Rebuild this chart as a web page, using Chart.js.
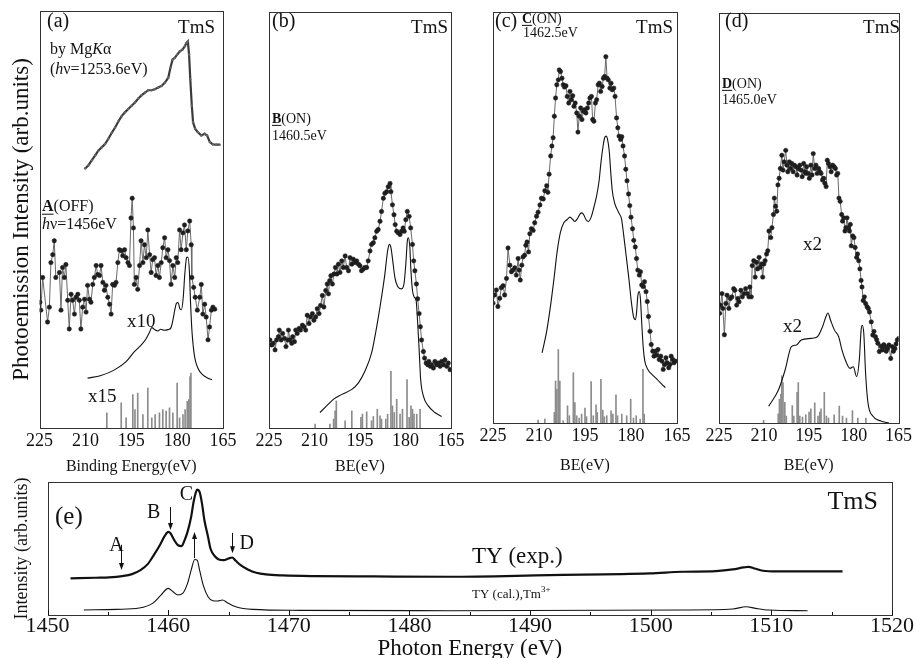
<!DOCTYPE html>
<html>
<head>
<meta charset="utf-8">
<title>TmS spectra</title>
<script src="https://cdn.jsdelivr.net/npm/chart.js@4.4.1/dist/chart.umd.min.js"></script>
<style>
  body { margin: 0; background: #fff; width: 916px; height: 658px; overflow: hidden; position: relative; }
  canvas { position: absolute; }
</style>
</head>
<body>
<canvas id="chartA" width="250" height="477" style="left:0;top:0"></canvas>
<canvas id="chartB" width="225" height="477" style="left:250px;top:0"></canvas>
<canvas id="chartC" width="225" height="476" style="left:475px;top:0"></canvas>
<canvas id="chartD" width="216" height="476" style="left:700px;top:0"></canvas>
<canvas id="chartE" width="916" height="190" style="left:0;top:470px"></canvas>
<script>
// tick labels
const beTicks = [225, 210, 195, 180, 165];
const peTicks = [1450, 1460, 1470, 1480, 1490, 1500, 1510, 1520];
const peMinor = [1455, 1465, 1475, 1485, 1495, 1505, 1515];

// (a) binding energy [eV], intensity [arb.]
const aMgKa = [[210.1,78.6],[209.0,79.6],[207.9,81.1],[206.8,82.6],[205.8,84.0],[204.7,85.0],[203.6,86.0],[202.5,87.6],[201.4,89.4],[200.3,91.0],[199.2,92.9],[198.2,94.4],[197.1,95.6],[196.0,96.6],[194.9,97.6],[193.8,98.6],[192.7,99.8],[191.6,100.8],[190.5,101.6],[189.5,102.3],[188.4,102.3],[187.3,102.6],[186.2,103.1],[185.1,103.6],[184.0,104.6],[182.9,106.1],[182.2,109.1],[181.5,111.6],[180.8,112.1],[180.0,113.1],[179.1,114.1],[178.3,114.6],[177.5,115.6],[177.0,116.6],[176.5,117.1],[176.1,113.1],[175.7,105.6],[175.2,97.6],[174.8,92.6],[174.1,90.6],[173.2,89.6],[172.1,88.6],[171.0,89.1],[170.2,88.6],[169.3,86.6],[168.3,85.9],[167.2,85.8],[166.1,85.8]];
const aOff = [[224.9,38.1],[224.6,35.7],[224.0,45.6],[222.4,32.1],[221.8,36.6],[221.3,50.1],[220.7,52.5],[220.2,56.7],[219.7,45.6],[218.5,47.1],[218.0,35.7],[217.5,48.6],[216.9,45.6],[216.4,49.5],[215.8,38.7],[215.3,30.0],[214.7,40.5],[214.2,38.7],[213.6,34.5],[213.1,39.6],[212.5,40.5],[212.0,38.7],[211.5,30.0],[210.9,36.6],[210.3,39.0],[209.8,35.1],[209.3,43.2],[208.7,39.0],[208.2,38.1],[207.6,43.5],[207.1,45.6],[206.5,49.2],[206.0,46.5],[205.4,46.2],[204.9,49.2],[204.3,44.1],[203.8,41.7],[203.3,43.2],[202.7,39.6],[202.1,37.5],[201.6,34.5],[201.1,43.5],[200.5,43.2],[200.0,44.1],[199.4,50.1],[198.9,54.0],[198.3,53.7],[197.8,52.2],[197.2,54.0],[196.7,51.6],[196.1,50.1],[195.6,49.2],[195.1,63.6],[194.7,69.6],[194.3,60.6],[194.0,43.5],[193.4,45.6],[192.9,42.0],[192.3,49.2],[191.8,56.7],[191.2,50.1],[190.7,55.5],[190.1,51.6],[189.6,60.0],[189.0,52.5],[188.5,47.1],[188.0,51.0],[187.4,51.6],[186.9,46.2],[186.3,49.2],[185.8,45.6],[185.2,50.1],[184.7,54.6],[184.1,57.6],[183.6,51.6],[183.0,54.0],[182.5,50.7],[182.0,43.5],[181.4,49.2],[180.8,45.6],[180.3,51.6],[179.8,50.1],[179.2,60.0],[178.7,54.0],[178.1,59.1],[177.6,61.5],[177.0,54.0],[176.5,59.7],[175.9,62.7],[175.4,55.5],[175.2,45.6],[174.6,42.6],[174.1,39.6],[173.4,35.7],[172.6,39.6],[172.1,43.5],[171.6,34.5],[171.0,37.5],[170.5,33.6],[169.9,26.7],[169.4,30.6],[168.8,35.7],[168.3,36.6],[167.7,36.0]];
const aCalc = [[209.3,15.1],[204.9,15.9],[200.5,17.6],[196.7,20.1],[194.0,23.1],[191.8,25.1],[190.1,27.1],[189.0,29.1],[188.3,30.4],[187.4,29.8],[186.3,29.4],[185.4,29.9],[184.3,29.6],[183.0,29.8],[182.0,30.4],[181.4,32.6],[180.8,35.6],[180.2,37.8],[179.7,38.0],[179.1,36.1],[178.6,35.8],[178.0,39.6],[177.5,46.6],[176.9,51.6],[176.5,51.8],[176.0,47.6],[175.6,37.6],[175.1,28.6],[174.3,21.6],[173.2,18.1],[171.6,16.1],[169.9,15.1],[168.6,14.6]];
const aSticks = [[203.0,4.6],[198.3,7.6],[196.7,3.1],[194.5,10.1],[193.8,5.6],[192.9,10.6],[191.2,4.1],[189.6,12.1],[188.3,3.1],[187.2,4.1],[185.8,4.6],[184.7,5.6],[183.6,5.1],[182.5,6.1],[181.4,4.6],[180.0,13.6],[179.2,3.1],[178.1,4.1],[177.4,5.6],[176.7,8.1],[176.2,8.6],[175.8,15.6],[175.5,16.6]];

// (b)
const bOn = [[224.7,26.7],[224.1,25.2],[223.6,25.7],[223.0,23.7],[222.5,26.7],[221.9,27.7],[221.6,29.7],[221.0,26.7],[220.5,28.7],[219.9,27.2],[219.4,24.7],[218.8,26.7],[218.6,29.7],[218.1,26.7],[217.5,25.7],[217.2,27.7],[216.6,26.2],[216.2,29.7],[215.7,28.7],[215.1,30.2],[214.6,29.7],[214.0,31.2],[213.5,30.7],[212.9,29.7],[212.4,34.2],[211.8,31.7],[211.3,33.7],[210.7,34.7],[210.2,32.7],[209.6,33.7],[209.1,36.2],[208.5,34.7],[208.0,37.2],[207.4,40.2],[206.9,36.7],[206.3,41.7],[205.8,43.7],[205.4,40.7],[205.0,44.7],[204.6,46.2],[204.1,43.7],[203.6,46.7],[203.1,48.7],[202.6,46.7],[202.1,49.7],[201.6,47.2],[201.0,50.7],[200.5,48.7],[199.9,52.2],[199.4,48.7],[198.8,47.7],[198.3,51.7],[197.7,49.7],[197.2,51.2],[196.6,50.2],[196.1,50.7],[195.5,49.7],[195.0,49.2],[194.5,47.7],[193.9,48.2],[193.4,48.7],[192.8,48.7],[192.3,50.7],[191.7,53.7],[191.2,55.7],[190.6,56.2],[190.1,57.7],[189.5,59.7],[189.0,60.2],[188.4,62.7],[187.9,65.7],[187.3,69.7],[186.8,71.2],[186.2,71.7],[185.7,73.2],[185.1,74.2],[184.8,71.7],[184.3,67.7],[183.8,64.7],[183.4,61.7],[182.9,59.7],[182.4,59.2],[181.8,58.7],[181.3,59.7],[180.8,60.7],[180.4,59.7],[179.9,63.2],[179.4,65.7],[178.8,64.2],[178.3,60.7],[177.7,55.7],[177.3,50.7],[176.9,47.7],[176.4,43.7],[176.0,39.2],[175.5,34.7],[175.1,30.7],[174.7,26.7],[174.1,23.2],[173.7,21.2],[173.2,19.7],[172.7,19.2],[172.3,20.2],[171.8,18.7],[171.4,19.2],[170.8,18.2],[170.3,20.2],[169.7,19.2],[169.2,19.7],[168.6,18.7],[168.1,20.2],[167.5,19.2],[167.0,20.7],[166.4,18.7],[165.9,19.7],[165.3,17.7]];
const bCalc = [[208.2,4.7],[206.0,6.7],[203.8,8.7],[201.0,10.2],[197.7,11.7],[195.5,13.7],[193.4,17.2],[191.2,22.7],[189.5,30.7],[187.9,39.7],[186.8,46.7],[185.9,53.7],[185.3,55.7],[184.8,54.7],[184.2,50.7],[183.5,45.7],[182.4,42.7],[181.3,42.2],[180.5,43.7],[179.9,49.7],[179.4,56.7],[179.1,57.7],[178.6,55.2],[178.2,47.7],[177.7,41.7],[177.1,39.7],[176.5,38.7],[176.1,33.7],[175.5,23.7],[175.0,14.7],[174.1,9.7],[172.5,6.7],[170.3,4.7],[168.1,3.5]];
const bSticks = [[209.8,1.2],[204.9,1.2],[203.7,2.7],[203.2,5.2],[202.8,8.2],[199.9,2.2],[197.7,5.2],[194.7,3.2],[194.2,4.2],[192.8,4.9],[191.2,2.2],[190.6,3.5],[189.3,5.7],[188.4,3.7],[187.9,2.7],[186.5,2.7],[185.9,4.2],[184.8,17.2],[184.3,6.7],[183.7,4.7],[182.9,8.7],[181.8,4.2],[181.0,5.7],[179.5,14.7],[178.8,3.2],[178.2,6.7],[177.7,5.7],[177.2,4.2],[176.3,4.2],[175.2,5.7]];

// (c)
const cOn = [[225.0,36.2],[224.5,38.7],[223.9,40.2],[223.4,35.2],[222.8,37.7],[222.3,40.9],[221.7,41.5],[221.2,38.7],[220.6,43.7],[220.1,52.9],[219.5,47.7],[219.0,45.7],[218.5,46.2],[217.9,46.9],[217.4,44.7],[216.8,49.7],[216.5,46.2],[216.1,43.2],[215.6,47.7],[215.2,50.2],[214.7,50.7],[214.3,53.7],[213.9,54.7],[213.4,51.7],[213.0,57.2],[212.5,58.7],[211.9,58.2],[211.4,60.5],[210.8,62.5],[210.3,63.7],[209.7,65.9],[209.2,67.9],[208.6,67.7],[208.1,70.2],[207.5,71.7],[207.1,69.7],[206.7,75.2],[206.2,80.7],[205.8,83.7],[205.4,86.2],[205.0,92.7],[204.6,98.2],[204.2,102.2],[203.7,103.7],[203.4,106.7],[203.0,106.2],[202.5,104.2],[202.1,102.2],[201.7,101.5],[201.2,101.9],[200.8,98.7],[200.3,96.7],[199.9,100.2],[199.5,97.7],[199.0,98.9],[198.6,95.7],[198.2,96.7],[197.7,93.7],[197.3,87.9],[196.9,92.7],[196.4,95.2],[196.0,91.7],[195.5,94.2],[195.1,94.7],[194.7,93.7],[194.2,95.2],[193.8,96.7],[193.4,98.2],[192.9,98.7],[192.5,91.7],[192.1,91.2],[191.6,96.7],[191.2,97.7],[190.7,102.2],[190.3,102.7],[189.9,100.2],[189.4,101.7],[189.0,104.2],[188.6,104.7],[188.2,110.7],[187.8,104.2],[187.4,103.7],[186.9,101.2],[186.5,102.7],[186.1,100.7],[185.6,101.2],[185.2,98.7],[184.7,92.2],[184.3,89.2],[183.9,86.7],[183.4,85.7],[183.0,86.5],[182.6,83.7],[182.1,80.7],[181.7,76.7],[181.3,73.2],[180.8,69.2],[180.4,65.7],[180.0,62.2],[179.5,58.7],[179.1,55.2],[178.6,53.2],[178.2,49.7],[177.8,46.2],[177.3,44.7],[176.9,45.7],[176.5,41.7],[176.0,41.2],[175.6,42.7],[175.1,39.7],[174.7,36.7],[174.3,32.2],[173.8,27.7],[173.4,23.7],[172.9,21.7],[172.5,20.2],[172.1,21.7],[171.7,20.5],[171.2,22.2],[170.8,19.2],[170.3,20.2],[169.9,18.7],[169.5,16.2],[169.0,17.7],[168.6,19.7],[168.2,18.2],[167.7,16.7],[167.3,17.7],[166.9,20.2],[166.4,19.2],[166.0,18.2],[165.5,18.7]];
const cCalc = [[209.0,21.2],[207.5,27.7],[206.2,35.7],[205.1,43.7],[204.1,51.7],[203.0,57.7],[201.9,60.5],[200.8,61.5],[199.9,62.2],[199.0,61.5],[198.3,60.9],[197.5,61.7],[196.6,63.2],[196.0,63.5],[195.3,62.7],[194.7,61.5],[193.9,60.9],[193.0,62.2],[192.1,65.2],[191.2,68.7],[190.4,73.2],[189.8,78.7],[189.1,83.7],[188.6,86.2],[188.1,86.7],[187.7,85.9],[187.1,82.2],[186.6,75.7],[186.1,70.2],[185.4,66.7],[184.6,64.7],[183.8,63.2],[183.1,61.7],[182.5,57.7],[181.6,50.7],[180.7,43.7],[179.9,36.7],[179.2,32.2],[178.6,31.2],[178.2,33.2],[177.8,38.2],[177.3,39.7],[176.9,37.2],[176.5,30.2],[176.0,22.7],[175.5,18.7],[174.5,16.2],[173.2,14.7],[171.5,13.2],[169.9,11.7],[168.8,10.7]];
const cSticks = [[210.3,0.9],[208.1,1.2],[205.0,3.2],[204.6,12.7],[204.2,10.2],[203.7,22.2],[203.2,12.7],[202.1,0.7],[200.7,5.2],[200.1,2.2],[198.8,15.2],[198.3,6.2],[197.7,2.2],[196.9,1.5],[196.1,2.7],[195.0,4.5],[194.5,1.9],[193.0,12.5],[192.3,2.2],[191.4,5.5],[191.0,3.2],[189.8,13.2],[189.2,3.9],[188.7,1.9],[187.9,2.2],[186.5,3.7],[185.9,2.7],[184.9,8.5],[184.4,2.2],[183.0,2.7],[181.4,2.2],[180.1,7.2],[179.2,1.5],[178.3,2.2],[177.0,1.2],[176.1,16.2],[175.7,2.7]];

// (d)
const dOn = [[224.8,33.3],[224.5,35.8],[224.0,39.3],[223.7,34.8],[223.2,26.8],[222.7,36.3],[222.3,38.8],[221.7,34.8],[221.2,37.8],[220.7,38.3],[220.1,40.8],[219.7,40.3],[219.1,35.8],[218.7,37.8],[218.3,36.8],[217.7,40.3],[217.2,38.3],[216.6,39.3],[216.1,40.8],[215.5,39.3],[215.0,38.3],[214.7,41.3],[214.2,38.3],[213.9,47.8],[213.4,49.3],[212.9,44.3],[212.5,48.8],[212.1,46.8],[211.6,50.3],[211.2,47.3],[210.8,48.3],[210.4,44.3],[210.0,48.3],[209.6,49.3],[209.1,51.3],[208.7,52.3],[208.3,58.3],[207.7,56.3],[207.3,59.3],[206.8,63.3],[206.5,68.3],[206.1,65.8],[205.7,64.3],[205.3,72.3],[204.9,74.3],[204.5,77.3],[204.0,81.3],[203.6,76.8],[203.2,79.3],[202.7,82.8],[202.3,78.3],[202.0,76.3],[201.5,79.3],[201.1,77.3],[200.7,78.8],[200.2,76.3],[199.8,78.3],[199.3,77.8],[198.9,75.3],[198.5,77.3],[198.0,78.3],[197.6,76.8],[197.2,74.8],[196.7,78.8],[196.3,76.3],[196.0,75.8],[195.7,77.8],[195.2,75.8],[194.8,74.3],[194.3,78.3],[193.9,75.3],[193.5,81.8],[193.0,77.3],[192.6,78.3],[192.2,75.8],[191.7,77.3],[191.3,76.3],[190.9,75.8],[190.4,73.8],[190.0,74.3],[189.6,72.8],[189.2,71.8],[188.8,79.8],[188.4,78.8],[187.9,77.8],[187.5,76.3],[187.0,78.3],[186.5,77.8],[186.1,77.3],[185.7,75.3],[185.3,75.8],[184.9,68.3],[184.5,67.3],[184.0,63.3],[183.7,61.3],[183.3,62.3],[182.9,58.3],[182.6,59.3],[182.2,62.3],[181.8,59.3],[181.4,58.3],[181.1,60.3],[180.8,53.8],[180.3,56.8],[179.9,56.3],[179.5,53.3],[179.0,50.3],[178.7,51.3],[178.3,49.3],[177.9,46.8],[177.5,43.3],[177.2,41.3],[176.8,37.2],[176.4,38.3],[176.0,36.3],[175.5,35.3],[175.1,34.8],[174.7,33.7],[174.1,30.7],[173.6,26.7],[173.2,27.8],[172.7,26.2],[172.3,25.3],[171.9,24.2],[171.4,21.7],[170.8,23.3],[170.3,22.2],[169.9,23.8],[169.5,23.2],[169.1,21.8],[168.7,22.6],[168.2,23.7],[167.6,19.6],[167.1,23.2],[166.7,21.8],[166.2,22.6],[165.8,24.0],[165.4,25.2],[164.9,25.7]];
const dCalc = [[208.4,5.1],[205.1,10.1],[202.9,16.1],[200.8,23.2],[199.1,23.7],[197.5,25.2],[194.2,25.7],[192.1,26.2],[190.4,29.2],[189.3,32.2],[188.6,33.4],[187.7,31.2],[186.4,28.2],[185.0,26.2],[183.9,22.2],[182.8,19.2],[181.2,16.6],[180.1,17.1],[179.0,14.1],[178.1,19.2],[177.5,28.2],[177.1,29.7],[176.6,27.2],[176.0,15.1],[175.2,6.1],[173.6,2.1],[170.9,0.6],[168.2,0]];
const dSticks = [[210.1,0.8],[205.2,2.8],[204.8,7.3],[204.3,8.8],[204.0,14.3],[203.6,12.3],[203.0,6.3],[202.5,2.1],[200.5,5.3],[200.0,2.1],[198.9,9.3],[198.5,12.3],[198.0,2.1],[197.1,1.8],[196.0,2.5],[194.9,3.3],[194.3,4.3],[193.0,6.1],[191.9,2.1],[191.3,3.3],[190.9,4.3],[189.8,9.3],[189.1,2.1],[188.4,1.5],[186.5,2.5],[184.8,5.1],[183.7,2.1],[182.4,1.5],[180.4,3.8],[178.6,1.5],[175.9,1.5]];

// (e) photon energy [eV], total yield [arb.]
const eExp = [[1451.9,11.0],[1454.0,11.2],[1455.1,11.3],[1456.2,11.7],[1457.0,12.3],[1457.7,13.5],[1458.3,15.3],[1458.8,18.0],[1459.3,21.0],[1459.7,23.7],[1460.0,25.0],[1460.2,24.5],[1460.5,22.5],[1460.8,21.0],[1461.1,20.7],[1461.3,22.0],[1461.6,25.0],[1461.9,29.5],[1462.1,34.0],[1462.3,37.0],[1462.4,37.7],[1462.6,37.0],[1462.8,33.5],[1463.0,28.5],[1463.3,23.5],[1463.5,20.0],[1463.9,17.5],[1464.2,16.7],[1464.6,16.5],[1465.0,17.0],[1465.3,17.3],[1465.6,16.3],[1466.0,15.0],[1466.6,13.7],[1467.3,12.7],[1468.1,12.2],[1469.5,11.9],[1472.2,11.7],[1477.0,11.6],[1483.3,11.5],[1491.6,12.0],[1499.9,12.5],[1502.6,13.0],[1505.4,13.2],[1506.8,13.7],[1507.7,14.3],[1508.1,14.5],[1508.6,14.0],[1509.3,13.3],[1510.4,13.1],[1515.9,13.1]];
const eCal = [[1453.0,1.5],[1455.7,1.7],[1457.6,2.1],[1458.7,3.5],[1459.4,6.0],[1460.0,8.0],[1460.4,7.0],[1460.8,6.0],[1461.2,6.5],[1461.6,9.5],[1461.9,13.5],[1462.2,16.7],[1462.4,16.5],[1462.6,13.5],[1462.9,9.0],[1463.3,5.5],[1463.7,4.3],[1464.1,4.2],[1464.5,4.5],[1464.9,3.7],[1465.6,2.5],[1467.0,1.7],[1470.9,1.4],[1483.3,1.3],[1502.7,1.5],[1506.8,1.8],[1507.9,2.5],[1508.7,2.0],[1509.8,1.5],[1513.0,1.3]];

// arrows in (e): photon energy, from, to (intensity)
const eArrows = [[1456.1, 21.1, 13.5], [1460.15, 32.5, 25.6], [1462.16, 17.1, 25.0], [1465.3, 24.7, 18.6]];
const eLetters = [['A', 1455.7, 20.8], ['B', 1458.8, 30.7], ['C', 1461.5, 36.1], ['D', 1466.5, 21.4]];

const serif = "'Liberation Serif', 'Times New Roman', serif";
const pts = arr => arr.map(([x, y]) => ({ x, y }));

function fontOf(style, size) {
  const sz = style.includes('s') ? Math.round(size * 0.68) : size;
  return (style.includes('i') ? 'italic ' : '') + (style.includes('b') ? 'bold ' : '') + sz + 'px ' + serif;
}

function drawRich(ctx, x, y, size, parts, align) {
  const widths = parts.map(([t, s]) => { ctx.font = fontOf(s, size); return ctx.measureText(t).width; });
  let cx = align === 'right' ? x - widths.reduce((a, b) => a + b, 0) : x;
  parts.forEach(([t, s], i) => {
    ctx.font = fontOf(s, size);
    ctx.fillText(t, cx, s.includes('s') ? y - size * 0.38 : y);
    if (s.includes('u')) ctx.fillRect(cx, y + size * 0.42, widths[i], 1);
    cx += widths[i];
  });
}

// box around the plot area
const frame = {
  id: 'frame',
  afterDraw(c) {
    const a = c.chartArea, ctx = c.ctx;
    ctx.save();
    ctx.strokeStyle = '#333';
    ctx.lineWidth = 1;
    ctx.strokeRect(Math.round(a.left) + 0.5, Math.round(a.top) + 0.5, Math.round(a.right - a.left), Math.round(a.bottom - a.top));
    ctx.restore();
  }
};

// free text labels, given in page coordinates
function notes(items, ox, oy) {
  return {
    id: 'notes',
    afterDraw(c) {
      const ctx = c.ctx;
      ctx.save();
      ctx.fillStyle = '#111';
      ctx.textBaseline = 'middle';
      ctx.textAlign = 'left';
      items.forEach(it => drawRich(ctx, it.x - ox, it.y - oy, it.size, it.parts, it.align));
      ctx.restore();
    }
  };
}

function panelOptions(o) {
  return {
    responsive: false,
    animation: false,
    events: [],
    layout: { padding: o.pad },
    plugins: { legend: { display: false }, tooltip: { enabled: false } },
    scales: {
      x: {
        type: 'linear', min: o.xMin, max: o.xMax, reverse: o.reverse, offset: false,
        afterBuildTicks: s => { s.ticks = o.ticks.map(v => ({ value: v })); },
        grid: { display: false, drawTicks: false, offset: false },
        border: { display: false },
        ticks: { color: '#111', padding: o.tickPad, maxRotation: 0, autoSkip: false,
                 callback: v => String(v),
                 font: { family: serif, size: o.tickSize, lineHeight: 1 } },
        title: { display: true, text: o.title, color: '#111', padding: o.titlePad,
                 font: { family: serif, size: o.titleSize, lineHeight: 1 } }
      },
      y: {
        type: 'linear', min: 0, max: o.yMax, display: !!o.yTitle,
        grid: { display: false, drawTicks: false },
        border: { display: false },
        ticks: { display: false },
        title: { display: !!o.yTitle, text: o.yTitle || '', color: '#111', padding: o.yTitlePad,
                 font: { family: serif, size: o.yTitleSize || 20, lineHeight: 1.2 } }
      }
    }
  };
}

const noisy = d => ({ type: 'line', data: pts(d), borderColor: '#6a6a6a', borderWidth: 1, pointRadius: 2.2,
  pointBackgroundColor: '#1e1e1e', pointBorderColor: '#1e1e1e', pointBorderWidth: 0.5 });
const calc = d => ({ type: 'line', data: pts(d), borderColor: '#111', borderWidth: 1.1, pointRadius: 0,
  cubicInterpolationMode: 'monotone' });
const sticks = d => ({ type: 'bar', data: pts(d), backgroundColor: '#8c8c8c', barThickness: 1, grouped: false });

const beAxis = { xMin: 165, xMax: 225, reverse: true, ticks: beTicks, tickSize: 18, tickPad: 4, titleSize: 16 };

new Chart(document.getElementById('chartA'), {
  type: 'line',
  data: { datasets: [
    { type: 'line', data: pts(aMgKa), borderColor: '#3a3a3a', borderWidth: 2.2, pointRadius: 1.2,
      pointBackgroundColor: '#666', pointBorderWidth: 0 },
    noisy(aOff), calc(aCalc), sticks(aSticks)
  ] },
  options: panelOptions({ ...beAxis, title: 'Binding Energy(eV)', titlePad: { top: 5, bottom: 2 },
    yMax: 126.3, yTitle: 'Photoemission Intensity (arb.units)', yTitleSize: 23, yTitlePad: { top: 2, bottom: 4 },
    pad: { left: 6, top: 11, right: 27, bottom: 0 } }),
  plugins: [frame, notes([
    { x: 47, y: 22, size: 20, parts: [['(a)', '']] },
    { x: 215, y: 28, size: 19, align: 'right', parts: [['TmS', '']] },
    { x: 50, y: 50, size: 16, parts: [['by Mg', ''], ['K', 'i'], ['α', '']] },
    { x: 50, y: 70, size: 16, parts: [['(', ''], ['h', 'i'], ['ν=1253.6eV)', '']] },
    { x: 42, y: 207, size: 16, parts: [['A', 'bu'], ['(OFF)', '']] },
    { x: 42, y: 225, size: 16, parts: [['h', 'i'], ['ν=1456eV', '']] },
    { x: 127, y: 322, size: 19, parts: [['x10', '']] },
    { x: 88, y: 397, size: 19, parts: [['x15', '']] }
  ], 0, 0)]
});

new Chart(document.getElementById('chartB'), {
  type: 'line',
  data: { datasets: [noisy(bOn), calc(bCalc), sticks(bSticks)] },
  options: panelOptions({ ...beAxis, title: 'BE(eV)', titlePad: { top: 5, bottom: 2 }, yMax: 126.2,
    pad: { left: 19, top: 12, right: 24, bottom: 0 } }),
  plugins: [frame, notes([
    { x: 272, y: 22, size: 20, parts: [['(b)', '']] },
    { x: 448, y: 28, size: 19, align: 'right', parts: [['TmS', '']] },
    { x: 272, y: 119, size: 14, parts: [['B', 'bu'], ['(ON)', '']] },
    { x: 272, y: 136, size: 14, parts: [['1460.5eV', '']] }
  ], 250, 0)]
});

new Chart(document.getElementById('chartC'), {
  type: 'line',
  data: { datasets: [noisy(cOn), calc(cCalc), sticks(cSticks)] },
  options: panelOptions({ ...beAxis, title: 'BE(eV)', titlePad: { top: 9, bottom: 2 }, yMax: 124.2,
    pad: { left: 18, top: 12, right: 23, bottom: 0 } }),
  plugins: [frame, notes([
    { x: 495, y: 22, size: 20, parts: [['(c)', '']] },
    { x: 522, y: 19, size: 14, parts: [['C', 'bu'], ['(ON)', '']] },
    { x: 523, y: 33, size: 14, parts: [['1462.5eV', '']] },
    { x: 673, y: 28, size: 19, align: 'right', parts: [['TmS', '']] }
  ], 475, 0)]
});

new Chart(document.getElementById('chartD'), {
  type: 'line',
  data: { datasets: [noisy(dOn), calc(dCalc), sticks(dSticks)] },
  options: panelOptions({ ...beAxis, title: 'BE(eV)', titlePad: { top: 9, bottom: 2 }, yMax: 124.5,
    pad: { left: 19, top: 13, right: 13, bottom: 0 } }),
  plugins: [frame, notes([
    { x: 725, y: 22, size: 20, parts: [['(d)', '']] },
    { x: 900, y: 28, size: 19, align: 'right', parts: [['TmS', '']] },
    { x: 722, y: 84, size: 14, parts: [['D', 'bu'], ['(ON)', '']] },
    { x: 722, y: 100, size: 14, parts: [['1465.0eV', '']] },
    { x: 803, y: 245, size: 19, parts: [['x2', '']] },
    { x: 783, y: 327, size: 19, parts: [['x2', '']] }
  ], 700, 0)]
});

// arrows, letters and inner minor ticks for (e)
const eMarks = {
  id: 'eMarks',
  afterDraw(c) {
    const ctx = c.ctx, xs = c.scales.x, ys = c.scales.y, a = c.chartArea;
    ctx.save();
    ctx.strokeStyle = '#111';
    ctx.fillStyle = '#111';
    ctx.lineWidth = 1;
    peTicks.concat(peMinor).forEach(v => {
      const px = Math.round(xs.getPixelForValue(v)) + 0.5;
      const len = peTicks.includes(v) ? 5 : 3;
      ctx.beginPath(); ctx.moveTo(px, a.bottom); ctx.lineTo(px, a.bottom - len); ctx.stroke();
    });
    eArrows.forEach(([e, from, to]) => {
      const px = Math.round(xs.getPixelForValue(e)) + 0.5;
      const y1 = ys.getPixelForValue(from), y2 = ys.getPixelForValue(to);
      const dir = y2 > y1 ? 1 : -1;
      ctx.beginPath(); ctx.moveTo(px, y1); ctx.lineTo(px, y2 - dir * 5); ctx.stroke();
      ctx.beginPath(); ctx.moveTo(px, y2); ctx.lineTo(px - 2.5, y2 - dir * 7); ctx.lineTo(px + 2.5, y2 - dir * 7); ctx.closePath(); ctx.fill();
    });
    ctx.textBaseline = 'middle';
    ctx.textAlign = 'center';
    ctx.font = '20px ' + serif;
    eLetters.forEach(([t, e, v]) => ctx.fillText(t, xs.getPixelForValue(e), ys.getPixelForValue(v)));
    ctx.restore();
  }
};

new Chart(document.getElementById('chartE'), {
  type: 'line',
  data: { datasets: [
    { data: pts(eExp), borderColor: '#111', borderWidth: 2.2, pointRadius: 0, cubicInterpolationMode: 'monotone' },
    { data: pts(eCal), borderColor: '#111', borderWidth: 1.1, pointRadius: 0, cubicInterpolationMode: 'monotone' }
  ] },
  options: panelOptions({ xMin: 1450, xMax: 1520, reverse: false, ticks: peTicks, tickSize: 22, tickPad: 0,
    title: 'Photon Energy (eV)', titleSize: 23, titlePad: { top: 0, bottom: 0 }, yMax: 40,
    yTitle: 'Intensity (arb.units)', yTitleSize: 18, yTitlePad: { top: 5, bottom: 15 },
    pad: { left: 6, top: 12, right: 24, bottom: 0 } }),
  plugins: [frame, eMarks, notes([
    { x: 55, y: 517, size: 25, parts: [['(e)', '']] },
    { x: 878, y: 502, size: 26, align: 'right', parts: [['TmS', '']] },
    { x: 472, y: 557, size: 23, parts: [['TY (exp.)', '']] },
    { x: 472, y: 595, size: 13, parts: [['TY (cal.),Tm', ''], ['3+', 's']] }
  ], 0, 470)]
});
</script>
</body>
</html>
